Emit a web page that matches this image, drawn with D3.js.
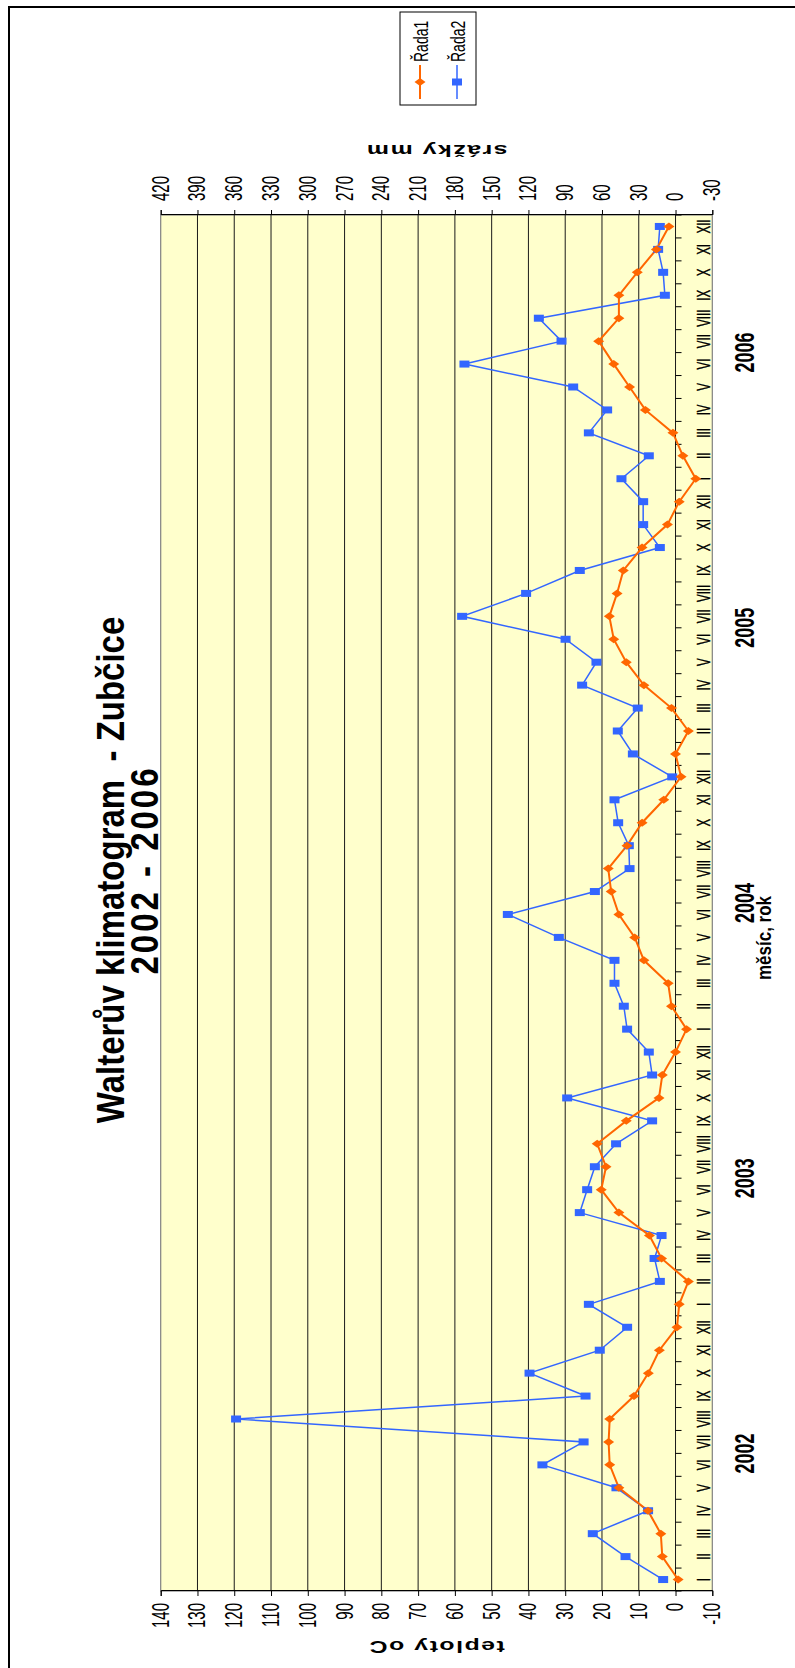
<!DOCTYPE html>
<html>
<head>
<meta charset="utf-8">
<script src="https://cdn.jsdelivr.net/npm/d3@7"></script>
<style>
  body { margin: 0; background: #fff; }
  svg { display: block; font-family: "Liberation Sans", Arial, sans-serif; }
</style>
</head>
<body>
<svg></svg>
<script>
// month labels under every point, years under each block of 12
const monthLabels = ["I", "II", "III", "IV", "V", "VI", "VII", "VIII", "IX", "X", "XI", "XII"];
const years = ["2002", "2003", "2004", "2005", "2006"];

// Řada1 = mean monthly temperature (°C), Jan 2002 .. Dec 2006
const rada1 = [
  -0.7, 3.6, 4.0, 7.5, 15.4, 17.9, 18.2, 17.9, 11.3, 7.4, 4.4, -0.4,
  -1.0, -3.5, 3.8, 7.1, 15.4, 20.2, 18.9, 21.3, 13.4, 4.5, 3.6, 0.0,
  -3.0, 1.1, 2.0, 8.6, 11.1, 15.4, 17.5, 18.3, 13.2, 9.1, 3.2, -1.5,
  0.0, -3.5, 1.1, 8.6, 13.4, 16.8, 18.0, 15.9, 14.2, 9.1, 2.2, -1.0,
  -5.5, -2.0, 0.7, 8.2, 12.5, 16.8, 20.9, 15.4, 15.4, 10.4, 5.2, 1.8
];

// Řada2 = monthly precipitation (mm)
const rada2 = [
  10.1, 40.8, 67.5, 22.4, 48.2, 108.6, 75.0, 358.5, 73.4, 119.1, 61.8, 39.5,
  70.7, 12.8, 17.1, 11.4, 78.1, 72.1, 65.8, 48.5, 19.1, 88.4, 19.1, 21.8,
  39.5, 42.2, 49.8, 49.8, 95.2, 136.8, 65.8, 37.5, 38.1, 46.8, 49.8, 2.7,
  34.8, 47.1, 30.8, 76.2, 64.5, 89.7, 174.1, 121.9, 78.1, 12.8, 26.4, 26.4,
  44.1, 21.8, 70.7, 55.8, 83.5, 172.2, 93.0, 111.5, 8.7, 10.1, 14.2, 12.8
];

const tempTicks = d3.range(-10, 141, 10);
const rainTicks = d3.range(-30, 421, 30);

const W = 795, H = 1668;
const STRETCH = 1.55; // the source picture is squashed, text looks tall

const svg = d3.select("svg").attr("width", W).attr("height", H);

svg.append("rect")
  .attr("x", 9).attr("y", 7)
  .attr("width", W).attr("height", H)
  .attr("fill", "none").attr("stroke", "#000").attr("stroke-width", 2);

// whole chart is drawn upright, then turned a quarter to the left
const g = svg.append("g").attr("transform", `translate(0,${H}) rotate(-90)`);

const pLeft = 77, pRight = 1453, pTop = 160.7, pBottom = 712.3;

const x = d3.scaleBand().domain(d3.range(rada1.length)).range([pLeft, pRight]);
const bw = x.bandwidth();
const cx = i => x(i) + bw / 2;
const yT = d3.scaleLinear().domain([-10, 140]).range([pBottom, pTop]);
const yP = d3.scaleLinear().domain([-30, 420]).range([pBottom, pTop]);

// plot area
g.append("rect")
  .attr("x", pLeft).attr("y", pTop)
  .attr("width", pRight - pLeft).attr("height", pBottom - pTop)
  .attr("fill", "#ffffcc").attr("stroke", "#808080").attr("stroke-width", 1.2);

// gridlines
g.append("g").selectAll("line")
  .data(tempTicks.filter(d => d > -10 && d < 140))
  .join("line")
  .attr("x1", pLeft).attr("x2", pRight)
  .attr("y1", d => yT(d)).attr("y2", d => yT(d))
  .attr("stroke", "#1a1a1a").attr("stroke-width", 1);

// value axes
const axisT = g.append("g")
  .attr("transform", `translate(${pLeft},0)`)
  .call(d3.axisLeft(yT).tickValues(tempTicks).tickSize(5).tickPadding(7).tickFormat(d => String(d)))
  .attr("font-family", null).attr("font-size", 15);
axisT.selectAll("text").attr("transform", `scale(1,${STRETCH})`).attr("fill", "#000");

const axisP = g.append("g")
  .attr("transform", `translate(${pRight},0)`)
  .call(d3.axisRight(yP).tickValues(rainTicks).tickSize(5).tickPadding(9).tickFormat(d => String(d)))
  .attr("font-family", null).attr("font-size", 15);
axisP.selectAll("text").attr("transform", `scale(1,${STRETCH})`).attr("fill", "#000");

// category axis sits on 0
const y0 = yT(0);
g.append("g").selectAll("line")
  .data(d3.range(rada1.length + 1))
  .join("line")
  .attr("x1", i => pLeft + i * bw).attr("x2", i => pLeft + i * bw)
  .attr("y1", y0).attr("y2", y0 + 6)
  .attr("stroke", "#000");

g.append("g").selectAll("text")
  .data(d3.range(rada1.length))
  .join("text")
  .attr("transform", i => `translate(${cx(i)},710) scale(1,${STRETCH})`)
  .attr("text-anchor", "middle")
  .attr("font-size", 11.5)
  .attr("stroke", "#000").attr("stroke-width", 0.3)
  .text(i => monthLabels[i % 12]);

g.append("g").selectAll("text")
  .data(years)
  .join("text")
  .attr("transform", (d, k) => `translate(${(x(k * 12) + x(k * 12 + 11) + bw) / 2},754) scale(1,${STRETCH})`)
  .attr("text-anchor", "middle")
  .attr("font-size", 18).attr("font-weight", "bold")
  .text(d => d);

g.append("text")
  .attr("transform", `translate(730,771) scale(1,1.2)`)
  .attr("text-anchor", "middle")
  .attr("font-size", 17).attr("font-weight", "bold")
  .text("měsíc, rok");

// axis titles, turned like in the original
g.append("text")
  .attr("transform", `translate(21,${(pTop + pBottom) / 2}) scale(1,${STRETCH}) rotate(-90)`)
  .attr("text-anchor", "middle").attr("dy", "0.35em")
  .attr("font-size", 16).attr("font-weight", "bold").attr("letter-spacing", 1)
  .text("teploty oC");

g.append("text")
  .attr("transform", `translate(1517,${(pTop + pBottom) / 2}) scale(1,${STRETCH}) rotate(-90)`)
  .attr("text-anchor", "middle").attr("dy", "0.35em")
  .attr("font-size", 16).attr("font-weight", "bold").attr("letter-spacing", 1)
  .text("srážky mm");

// title, two lines
g.append("text")
  .attr("transform", "translate(798,124) scale(1,1.2)")
  .attr("text-anchor", "middle")
  .attr("font-size", 33).attr("font-weight", "bold")
  .style("white-space", "pre")
  .text("Walterův klimatogram  - Zubčice");
g.append("text")
  .attr("transform", "translate(798,158) scale(1,1.2)")
  .attr("text-anchor", "middle")
  .attr("font-size", 33).attr("font-weight", "bold").attr("letter-spacing", 3)
  .text("2002 - 2006");

// series
const orange = "#ff6600", blue = "#3366ff";

g.append("path")
  .datum(rada2)
  .attr("fill", "none").attr("stroke", blue).attr("stroke-width", 1.5)
  .attr("d", d3.line().x((d, i) => cx(i)).y(d => yP(d)));

g.append("path")
  .datum(rada1)
  .attr("fill", "none").attr("stroke", orange).attr("stroke-width", 2)
  .attr("d", d3.line().x((d, i) => cx(i)).y(d => yT(d)));

g.append("g").selectAll("rect")
  .data(rada2)
  .join("rect")
  .attr("x", (d, i) => cx(i) - 3.5).attr("y", d => yP(d) - 5)
  .attr("width", 7).attr("height", 10)
  .attr("fill", blue);

const diamond = "M0,-5.5L4,0L0,5.5L-4,0Z";
g.append("g").selectAll("path")
  .data(rada1)
  .join("path")
  .attr("transform", (d, i) => `translate(${cx(i)},${yT(d)})`)
  .attr("d", diamond)
  .attr("fill", orange);

// legend
const lg = g.append("g").attr("transform", "translate(1563,400)");
lg.append("rect").attr("width", 93).attr("height", 76)
  .attr("fill", "#fff").attr("stroke", "#000");
const entries = [
  { name: "Řada1", color: orange, row: 20 },
  { name: "Řada2", color: blue, row: 57 }
];
entries.forEach(e => {
  lg.append("line").attr("x1", 6).attr("x2", 40).attr("y1", e.row).attr("y2", e.row)
    .attr("stroke", e.color).attr("stroke-width", e.color === orange ? 2 : 1.5);
  if (e.color === orange) {
    lg.append("path").attr("transform", `translate(23,${e.row})`).attr("d", diamond).attr("fill", orange);
  } else {
    lg.append("rect").attr("x", 19.5).attr("y", e.row - 5).attr("width", 7).attr("height", 10).attr("fill", blue);
  }
  lg.append("text")
    .attr("transform", `translate(43,${e.row + 8}) scale(1,1.4)`)
    .attr("font-size", 14)
    .text(e.name);
});
</script>
</body>
</html>
